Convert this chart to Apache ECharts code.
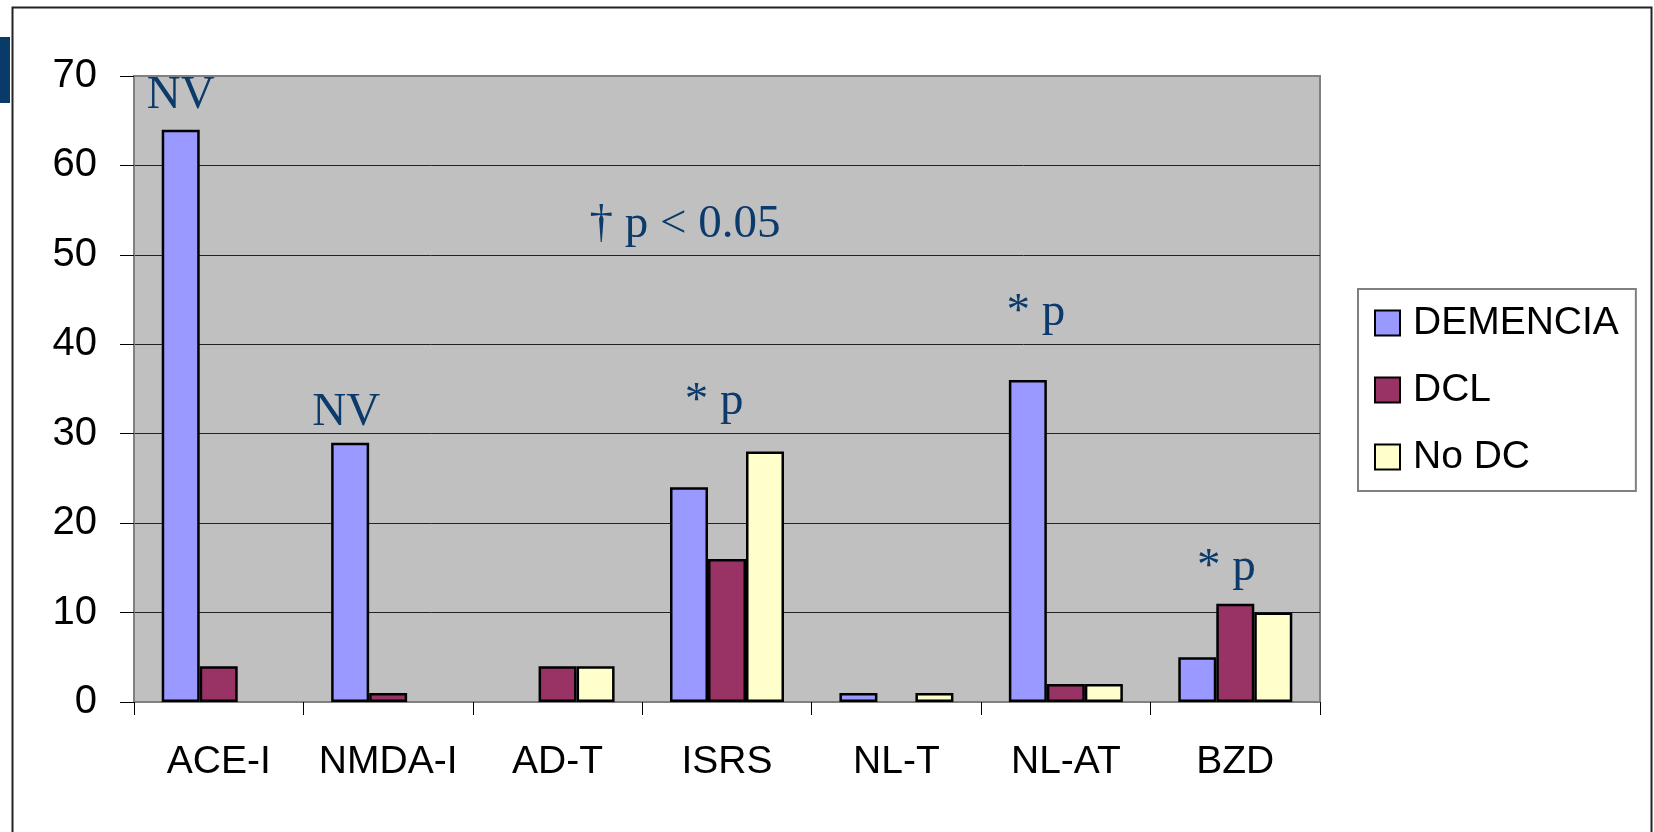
<!DOCTYPE html>
<html>
<head>
<meta charset="utf-8">
<script src="https://cdn.jsdelivr.net/npm/echarts@6/dist/echarts.min.js"></script>
<style>
  html, body { margin: 0; padding: 0; background: #ffffff; }
  #chart { width: 1654px; height: 832px; }
</style>
</head>
<body>
<div id="chart"></div>
<script>
// ---- data ----
const categories = ['ACE-I', 'NMDA-I', 'AD-T', 'ISRS', 'NL-T', 'NL-AT', 'BZD'];
const seriesNames = ['DEMENCIA', 'DCL', 'No DC'];
const demencia = [64, 29, null, 24, 1, 36, 5];
const dcl = [4, 1, 4, 16, null, 2, 11];
const noDc = [null, null, 4, 28, 1, 2, 10];
const yTicks = [0, 10, 20, 30, 40, 50, 60, 70];
// annotation text anchored at (category, value)
const annotationCats = ['ACE-I', 'NMDA-I', 'ISRS', 'ISRS', 'NL-AT', 'BZD'];
const annotationVals = [67.8, 32.3, 33.6, 53.4, 43.5, 15.0];
const annotationTexts = ['NV', 'NV', '* p', '\u2020 p < 0.05', '* p', '* p'];

// ---- styling (not data) ----
const annotationDx = [0, -4, 25, -4, 8, 29];
const colors = ['#9999FF', '#993366', '#FFFFCC'];
const sans = "'Liberation Sans', Arial, sans-serif";
const serif = "'Liberation Serif', 'Times New Roman', serif";

const chart = echarts.init(document.getElementById('chart'), null, { renderer: 'canvas' });

const markData = annotationTexts.map((t, i) => ({
  coord: [annotationCats[i], annotationVals[i]],
  label: { formatter: t, offset: [annotationDx[i], 0] }
}));

const valuesList = [demencia, dcl, noDc];
const series = seriesNames.map((name, i) => ({
  name: name,
  type: 'bar',
  data: valuesList[i],
  barWidth: 38,
  barGap: '0%',
  itemStyle: { color: colors[i], borderColor: '#000', borderWidth: 2.5 },
  emphasis: { disabled: true },
  animation: false
}));
series[0].markPoint = {
  symbol: 'circle',
  symbolSize: 0,
  silent: true,
  animation: false,
  label: {
    show: true,
    position: 'inside',
    color: '#0B3A6B',
    fontFamily: serif,
    fontSize: 47
  },
  data: markData
};

const option = {
  backgroundColor: '#ffffff',
  animation: false,
  grid: {
    left: 134, right: 334, top: 76, bottom: 130,
    show: true,
    backgroundColor: '#C0C0C0',
    borderColor: '#808080',
    borderWidth: 2
  },
  legend: {
    orient: 'vertical',
    left: 1358,
    top: 289,
    padding: [14, 17, 14, 16],
    itemWidth: 25,
    itemHeight: 25,
    itemGap: 27,
    icon: 'rect',
    backgroundColor: '#ffffff',
    borderColor: '#808080',
    borderWidth: 2,
    textStyle: {
      fontFamily: sans, fontSize: 39, color: '#000', lineHeight: 40,
      padding: [0, 0, 0, 8]
    },
    data: seriesNames
  },
  xAxis: {
    type: 'category',
    data: categories,
    axisLine: { lineStyle: { color: '#808080', width: 2 } },
    axisTick: { show: true, length: 13, lineStyle: { color: '#000', width: 1 } },
    axisLabel: { interval: 0, fontFamily: sans, fontSize: 39, color: '#000', margin: 41 },
    splitLine: { show: false }
  },
  yAxis: {
    type: 'value',
    min: yTicks[0],
    max: yTicks[yTicks.length - 1],
    interval: 10,
    axisLine: { show: true, lineStyle: { color: '#808080', width: 2 } },
    axisTick: { show: true, length: 14, lineStyle: { color: '#000', width: 1 } },
    axisLabel: { fontFamily: sans, fontSize: 40, color: '#000', margin: 37 },
    splitLine: {
      show: true,
      lineStyle: {
        color: ['#808080', '#222', '#222', '#222', '#222', '#222', '#222', '#808080'],
        width: 1
      }
    }
  },
  graphic: [
    {
      type: 'rect', left: 10, top: 5, silent: true,
      shape: { x: 0, y: 0, width: 1639, height: 900 },
      style: { fill: 'none', stroke: '#222', lineWidth: 2 }
    },
    {
      type: 'rect', left: 0, top: 37, silent: true,
      shape: { x: 0, y: 0, width: 10, height: 66 },
      style: { fill: '#0A3A6A' }
    }
  ],
  series: series
};

chart.setOption(option);
</script>
</body>
</html>
